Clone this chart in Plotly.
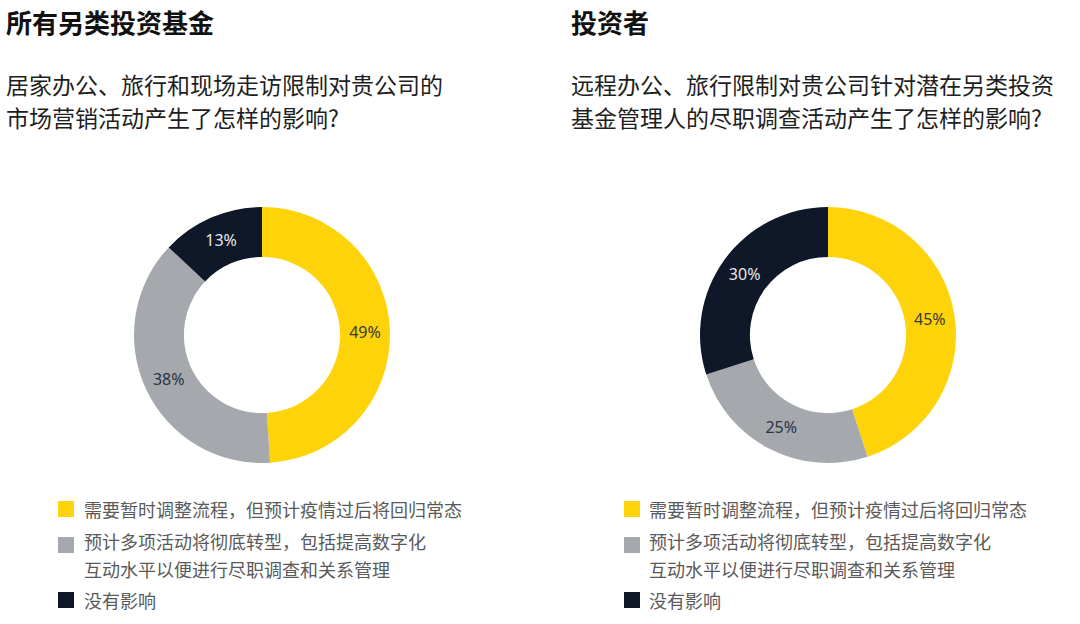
import plotly.graph_objects as go

# ---- data ----
categories = [
    "需要暂时调整流程，但预计疫情过后将回归常态",
    "预计多项活动将彻底转型，包括提高数字化<br>互动水平以便进行尽职调查和关系管理",
    "没有影响",
]
funds_values = [49, 38, 13]
investor_values = [45, 25, 30]
colors = ["#FFD30A", "#A5A9AE", "#0E1829"]
label_colors = ["#3A3A3A", "#2B3242", "#E6E8EC"]

left_title = "所有另类投资基金"
left_question = "居家办公、旅行和现场走访限制对贵公司的<br>市场营销活动产生了怎样的影响?"
right_title = "投资者"
right_question = "远程办公、旅行限制对贵公司针对潜在另类投资<br>基金管理人的尽职调查活动产生了怎样的影响?"

W, H = 1080, 624
CJK = "Noto Sans CJK SC"

fig = go.Figure()

def add_donut(values, xdom, name):
    fig.add_trace(go.Pie(
        labels=[c.replace("<br>", "") for c in categories],
        values=values,
        name=name,
        hole=0.61,
        sort=False,
        direction="clockwise",
        rotation=0,
        marker=dict(colors=colors, line=dict(width=0)),
        texttemplate="%{value}%",
        textposition="inside",
        insidetextorientation="horizontal",
        textfont=dict(family="Noto Sans, " + CJK, size=16, color=label_colors),
        domain=dict(x=xdom, y=[(H - 335 - 128) / H, (H - 335 + 128) / H]),
        showlegend=False,
        hoverinfo="label+percent",
    ))

add_donut(funds_values, [134 / W, 390 / W], "所有另类投资基金")
add_donut(investor_values, [700 / W, 956 / W], "投资者")

annotations = []
shapes = []

def text_ann(x, y, txt, size, color, yanchor="middle"):
    annotations.append(dict(
        x=x / W, y=1 - y / H, xref="paper", yref="paper",
        xanchor="left", yanchor=yanchor, showarrow=False, align="left",
        borderpad=0,
        text=txt, font=dict(family=CJK, size=size, color=color),
    ))

def add_header(x0, title, question):
    text_ann(x0, 22, "<b>" + title + "</b>", 26, "#111111")
    for j, line in enumerate(question.split("<br>")):
        text_ann(x0, 84 + 33 * j, line, 23, "#1E1E1E")

add_header(5, left_title, left_question)
add_header(570, right_title, right_question)

square_centers = [509, 545, 600]
block_centers = [509, 555, 600]

def add_legend(sq_x, text_x):
    for i, cat in enumerate(categories):
        cy = square_centers[i]
        shapes.append(dict(
            type="rect", xref="paper", yref="paper",
            x0=sq_x / W, x1=(sq_x + 16) / W,
            y0=1 - (cy + 8) / H, y1=1 - (cy - 8) / H,
            fillcolor=colors[i], line=dict(width=0),
        ))
        lines = cat.split("<br>")
        if len(lines) == 1:
            text_ann(text_x, block_centers[i], lines[0], 18, "#5A5A5A")
        else:
            text_ann(text_x, block_centers[i], lines[0], 18, "#5A5A5A", yanchor="bottom")
            text_ann(text_x, block_centers[i], lines[1], 18, "#5A5A5A", yanchor="top")

add_legend(58, 83)
add_legend(624, 648)

fig.update_layout(
    width=W, height=H,
    margin=dict(l=0, r=0, t=0, b=0),
    paper_bgcolor="white",
    plot_bgcolor="white",
    annotations=annotations,
    shapes=shapes,
)

fig.write_html("out.html")
